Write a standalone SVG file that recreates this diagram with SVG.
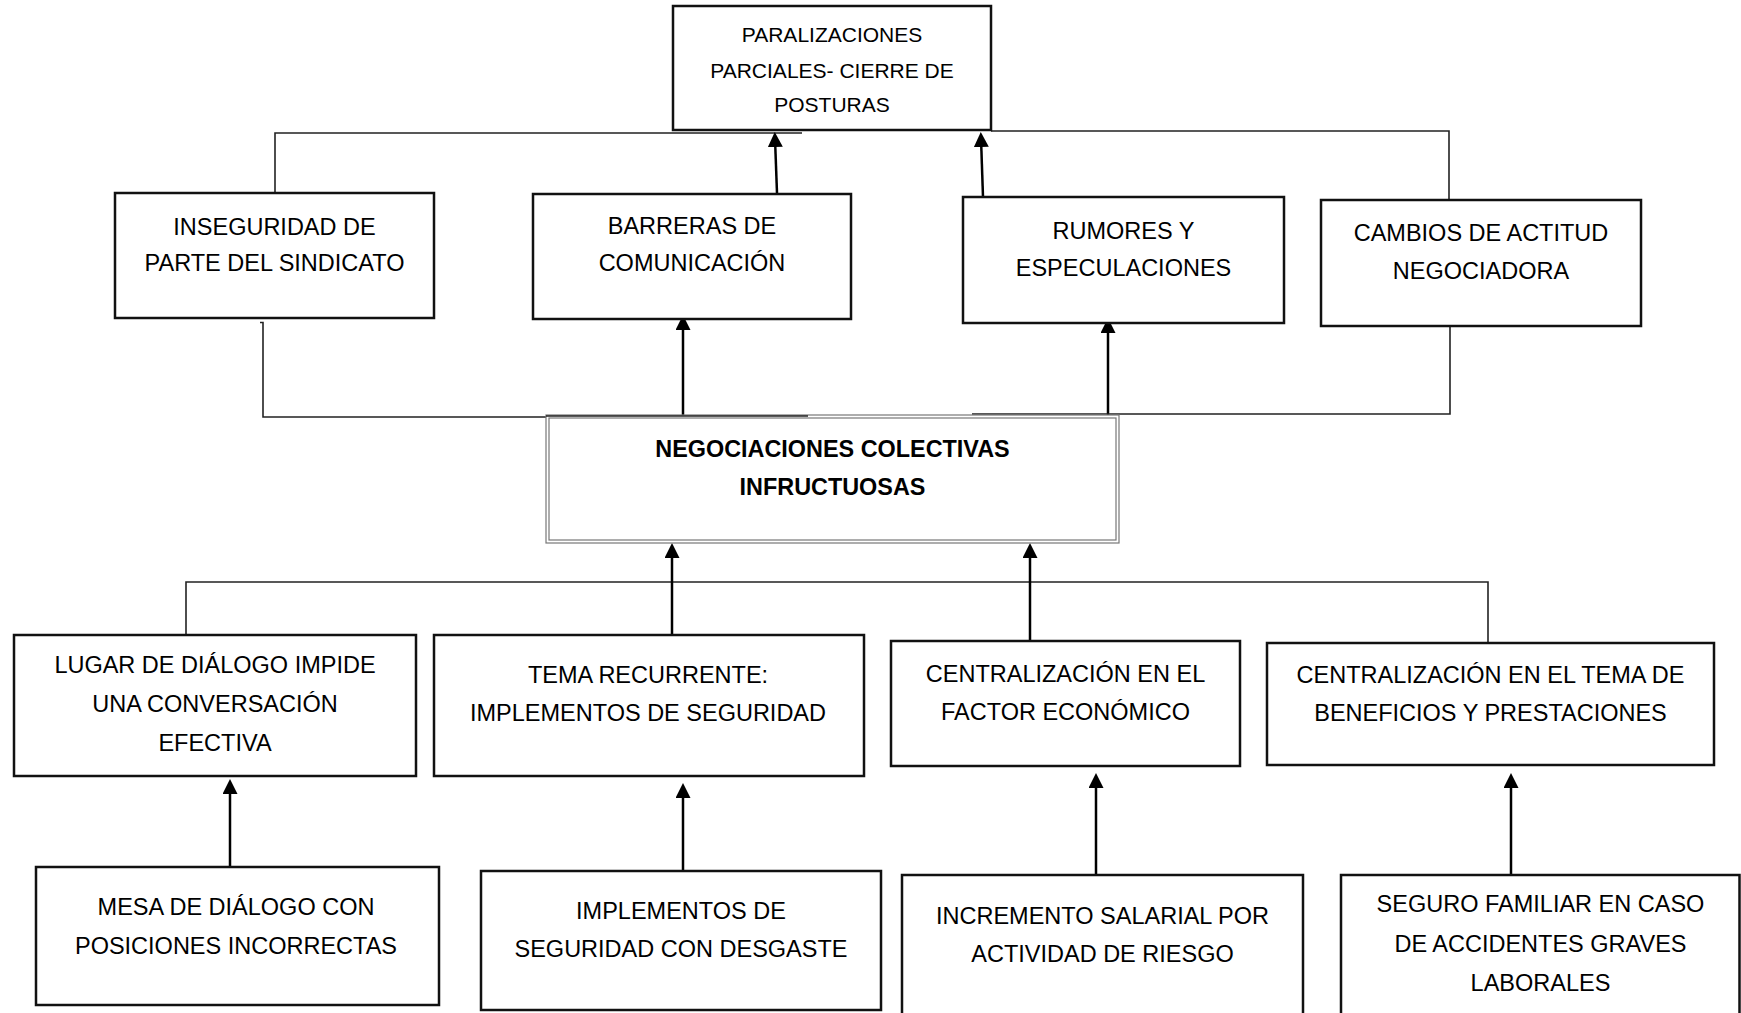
<svg xmlns="http://www.w3.org/2000/svg" width="1741" height="1013" viewBox="0 0 1741 1013">
<style>
.box{fill:#fff;stroke:#111;stroke-width:2.5}
.dbl{fill:#fff;stroke:#777;stroke-width:1.2}
.t{font-family:"Liberation Sans",Arial,sans-serif;font-size:23.5px;fill:#000;text-anchor:middle}
.ts{font-size:21px}
.tb{font-weight:bold;font-size:23.4px}
.ln{fill:none;stroke:#222;stroke-width:1.6}
.ar{fill:none;stroke:#000;stroke-width:2.5;marker-end:url(#ah)}
</style>
<defs>
<marker id="ah" viewBox="0 0 15 15" refX="3" refY="7.5" markerWidth="15" markerHeight="15" markerUnits="userSpaceOnUse" orient="auto">
<path d="M0,0 L15,7.5 L0,15 z" fill="#000"/>
</marker>
</defs>
<rect width="1741" height="1013" fill="#fff"/>

<g id="connectors">
<polyline class="ln" points="275,193 275,133 802,133"/>
<line class="ar" x1="777" y1="193" x2="775.2" y2="144"/>
<line class="ar" x1="983" y1="197" x2="981.2" y2="144"/>
<polyline class="ln" points="991,131 1449,131 1449,200"/>
<polyline class="ln" points="260,322.5 263,322.5 263,417 808,417"/>
<line class="ar" x1="683" y1="417" x2="683" y2="327"/>
<line class="ar" x1="1108" y1="421" x2="1108" y2="330"/>
<polyline class="ln" points="1450,326 1450,414 972,414"/>
<line x1="1449" y1="323.5" x2="1484" y2="323.5" stroke="#333" stroke-width="1.2"/>
<polyline class="ln" points="186,635 186,582 1488,582 1488,644"/>
<line class="ar" x1="672" y1="635" x2="672" y2="555"/>
<line class="ar" x1="1030" y1="641" x2="1030" y2="555"/>
<line class="ar" x1="230" y1="867" x2="230" y2="791"/>
<line class="ar" x1="683" y1="871" x2="683" y2="795"/>
<line class="ar" x1="1096" y1="875" x2="1096" y2="785"/>
<line class="ar" x1="1511" y1="875" x2="1511" y2="785"/>
</g>

<g id="n1">
<rect class="box" x="673" y="6" width="318" height="124"/>
<text class="t ts" x="832" y="42">PARALIZACIONES</text>
<text class="t ts" x="832" y="77.5">PARCIALES- CIERRE DE</text>
<text class="t ts" x="832" y="111.5">POSTURAS</text>
</g>
<g id="n2">
<rect class="box" x="115" y="193" width="319" height="125"/>
<text class="t" x="274.5" y="235.4">INSEGURIDAD DE</text>
<text class="t" x="274.5" y="271.4">PARTE DEL SINDICATO</text>
</g>
<g id="n3">
<rect class="box" x="533" y="194" width="318" height="125"/>
<text class="t" x="692" y="234.4">BARRERAS DE</text>
<text class="t" x="692" y="271.4">COMUNICACIÓN</text>
</g>
<g id="n4">
<rect class="box" x="963" y="197" width="321" height="126"/>
<text class="t" x="1123.5" y="239.4">RUMORES Y</text>
<text class="t" x="1123.5" y="276.4">ESPECULACIONES</text>
</g>
<g id="n5">
<rect class="box" x="1321" y="200" width="320" height="126"/>
<text class="t" x="1481" y="241">CAMBIOS DE ACTITUD</text>
<text class="t" x="1481" y="279">NEGOCIADORA</text>
</g>
<g id="n6">
<rect class="dbl" x="546" y="415" width="573" height="128"/>
<rect class="dbl" x="549" y="418" width="567" height="122" fill="none"/>
<line x1="546" y1="416" x2="808" y2="416" stroke="#222" stroke-width="1.6"/>
<text class="t tb" x="832.5" y="457.4">NEGOCIACIONES COLECTIVAS</text>
<text class="t tb" x="832.5" y="495.4">INFRUCTUOSAS</text>
</g>
<g id="n7">
<rect class="box" x="14" y="635" width="402" height="141"/>
<text class="t" x="215" y="673">LUGAR DE DIÁLOGO IMPIDE</text>
<text class="t" x="215" y="712">UNA CONVERSACIÓN</text>
<text class="t" x="215" y="751">EFECTIVA</text>
</g>
<g id="n8">
<rect class="box" x="434" y="635" width="430" height="141"/>
<text class="t" x="648" y="683">TEMA RECURRENTE:</text>
<text class="t" x="648" y="721">IMPLEMENTOS DE SEGURIDAD</text>
</g>
<g id="n9">
<rect class="box" x="891" y="641" width="349" height="125"/>
<text class="t" x="1065.5" y="682">CENTRALIZACIÓN EN EL</text>
<text class="t" x="1065.5" y="720">FACTOR ECONÓMICO</text>
</g>
<g id="n10">
<rect class="box" x="1267" y="643" width="447" height="122"/>
<text class="t" x="1490.5" y="682.5">CENTRALIZACIÓN EN EL TEMA DE</text>
<text class="t" x="1490.5" y="721">BENEFICIOS Y PRESTACIONES</text>
</g>
<g id="n11">
<rect class="box" x="36" y="867" width="403" height="138"/>
<text class="t" x="236" y="915">MESA DE DIÁLOGO CON</text>
<text class="t" x="236" y="954">POSICIONES INCORRECTAS</text>
</g>
<g id="n12">
<rect class="box" x="481" y="871" width="400" height="139"/>
<text class="t" x="681" y="918.5">IMPLEMENTOS DE</text>
<text class="t" x="681" y="956.5">SEGURIDAD CON DESGASTE</text>
</g>
<g id="n13">
<rect class="box" x="902" y="875" width="401" height="150"/>
<text class="t" x="1102.5" y="923.5">INCREMENTO SALARIAL POR</text>
<text class="t" x="1102.5" y="961.5">ACTIVIDAD DE RIESGO</text>
</g>
<g id="n14">
<rect class="box" x="1341" y="875" width="398.5" height="150"/>
<text class="t" x="1540.5" y="912">SEGURO FAMILIAR EN CASO</text>
<text class="t" x="1540.5" y="951.5">DE ACCIDENTES GRAVES</text>
<text class="t" x="1540.5" y="990.5">LABORALES</text>
</g>
</svg>
